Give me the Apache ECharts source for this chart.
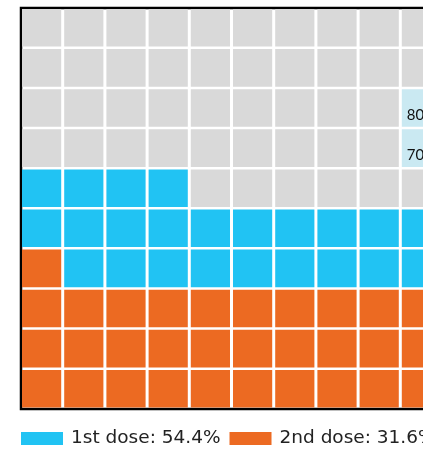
<!DOCTYPE html>
<html><head><meta charset="utf-8">
<script src="https://cdn.jsdelivr.net/npm/echarts@6/dist/echarts.min.js"></script>
<style>html,body{margin:0;padding:0;background:#fff}#c{width:423px;height:449px}</style>
</head><body><div id="c"></div>
<script>
// Data
const doseNames = ['1st dose', '2nd dose'];
const dosePercent = [54.4, 31.6];          // cumulative share of population
const markedCells = [70, 80];              // highlighted waffle cells (labelled)
const gridCols = [1,2,3,4,5,6,7,8,9,10];
const gridRows = [1,2,3,4,5,6,7,8,9,10];

const colors = { first: '#21c3f3', second: '#ec6a22', rest: '#d9d9d9', mark: '#cae9f2' };

// build cell lists (numbered 1..100 from bottom-left, row-wise)
const cells = { first: [], second: [], rest: [], mark: [] };
const nFirst = Math.floor(dosePercent[0]);
const nSecond = Math.floor(dosePercent[1]);
for (let r = 0; r < gridRows.length; r++) {
  for (let c = 0; c < gridCols.length; c++) {
    const n = r * gridCols.length + c + 1;
    const pt = [c, r, n];
    if (n <= nSecond) cells.second.push(pt);
    else if (n <= nFirst) cells.first.push(pt);
    else if (markedCells.indexOf(n) >= 0) cells.mark.push(pt);
    else cells.rest.push(pt);
  }
}

function renderCell(showLabel) {
  return function (params, api) {
    const p = api.coord([api.value(0), api.value(1)]);
    const s = api.size([1, 1]);
    const x = p[0] - s[0] / 2 + 1;
    const y = p[1] - s[1] / 2 + 1;
    const w = s[0] - 3, h = s[1] - 2.5;
    const children = [{
      type: 'rect',
      shape: { x: x, y: y, width: w, height: h },
      style: { fill: api.visual('color') }
    }];
    if (showLabel) {
      children.push({
        type: 'text',
        style: {
          text: String(api.value(2)), x: x + 5, y: y + h / 2 + 7,
          fill: '#111', font: '15px Lato', textAlign: 'left', textVerticalAlign: 'middle'
        }
      });
    }
    return { type: 'group', children: children };
  };
}

function mkSeries(name, key, label) {
  return {
    name: name, type: 'custom', renderItem: renderCell(label),
    data: cells[key], itemStyle: { color: colors[key] },
    encode: { x: 0, y: 1 }, silent: true, animation: false
  };
}

const chart = echarts.init(document.getElementById('c'), null, { renderer: 'canvas' });
chart.setOption({
  animation: false,
  grid: { left: 21, top: 8, width: 422, height: 401, outerBoundsMode: 'none', containLabel: false,
          show: true, borderColor: '#000', borderWidth: 2.5, backgroundColor: 'transparent' },
  xAxis: { type: 'category', data: gridCols, show: false },
  yAxis: { type: 'category', data: gridRows, show: false },
  legend: {
    left: 21, top: 429, width: 800, orient: 'horizontal', padding: 0, icon: 'rect',
    itemWidth: 42, itemHeight: 13, itemGap: 9,
    data: doseNames,
    selectedMode: false,
    formatter: function (name) { return name + ': ' + dosePercent[doseNames.indexOf(name)] + '%'; },
    textStyle: { fontFamily: 'DejaVu Sans', fontSize: 18.5, color: '#222', padding: [0, 0, 0, 3] }
  },
  series: [
    mkSeries('remaining', 'rest', false),
    mkSeries('target', 'mark', true),
    mkSeries(doseNames[0], 'first', false),
    mkSeries(doseNames[1], 'second', false)
  ]
});
</script></body></html>
